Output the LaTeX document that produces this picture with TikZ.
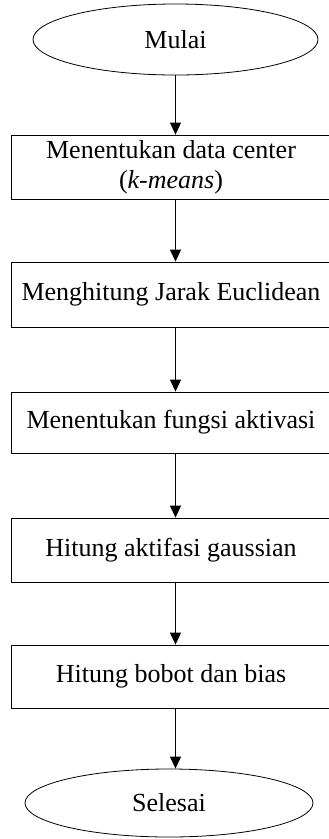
\documentclass[tikz,border=0pt]{standalone}
\usepackage{fontspec}
\setmainfont{Liberation Serif}
\usetikzlibrary{shapes.geometric,arrows.meta}
\begin{document}
\begin{tikzpicture}[x=1pt,y=-1pt,
  every node/.style={font=\fontsize{26}{30}\selectfont, inner sep=0pt, line width=0.8pt},
  term/.style={draw, ellipse},
  proc/.style={draw, rectangle, minimum width=320pt, align=center},
  arr/.style={draw, line width=0.8pt, -{Triangle[width=11pt,length=12pt]}}]
\useasboundingbox (0,0) rectangle (329,839);
\node[term, minimum width=285pt, minimum height=71pt] (mulai) at (175.5,39.5) {Mulai};
\node[proc, minimum height=64pt] (b1) at (171,167) {Menentukan data center\\(\textit{k-means})};
\node[proc, minimum height=65pt] (b2) at (171,294.5) {Menghitung Jarak Euclidean};
\node[proc, minimum height=61pt] (b3) at (171,422.5) {Menentukan fungsi aktivasi};
\node[proc, minimum height=64pt] (b4) at (171,550) {Hitung aktifasi gaussian};
\node[proc, minimum height=63pt] (b5) at (171,676.5) {Hitung bobot dan bias};
\node[term, minimum width=288pt, minimum height=68pt] (selesai) at (169,803) {Selesai};
\draw[arr] (mulai.south) -- (mulai.south |- b1.north);
\draw[arr] (b1.south -| mulai) -- (b2.north -| mulai);
\draw[arr] (b2.south -| mulai) -- (b3.north -| mulai);
\draw[arr] (b3.south -| mulai) -- (b4.north -| mulai);
\draw[arr] (b4.south -| mulai) -- (b5.north -| mulai);
\draw[arr] (b5.south -| mulai) -- (selesai.north -| mulai);
\end{tikzpicture}
\end{document}
